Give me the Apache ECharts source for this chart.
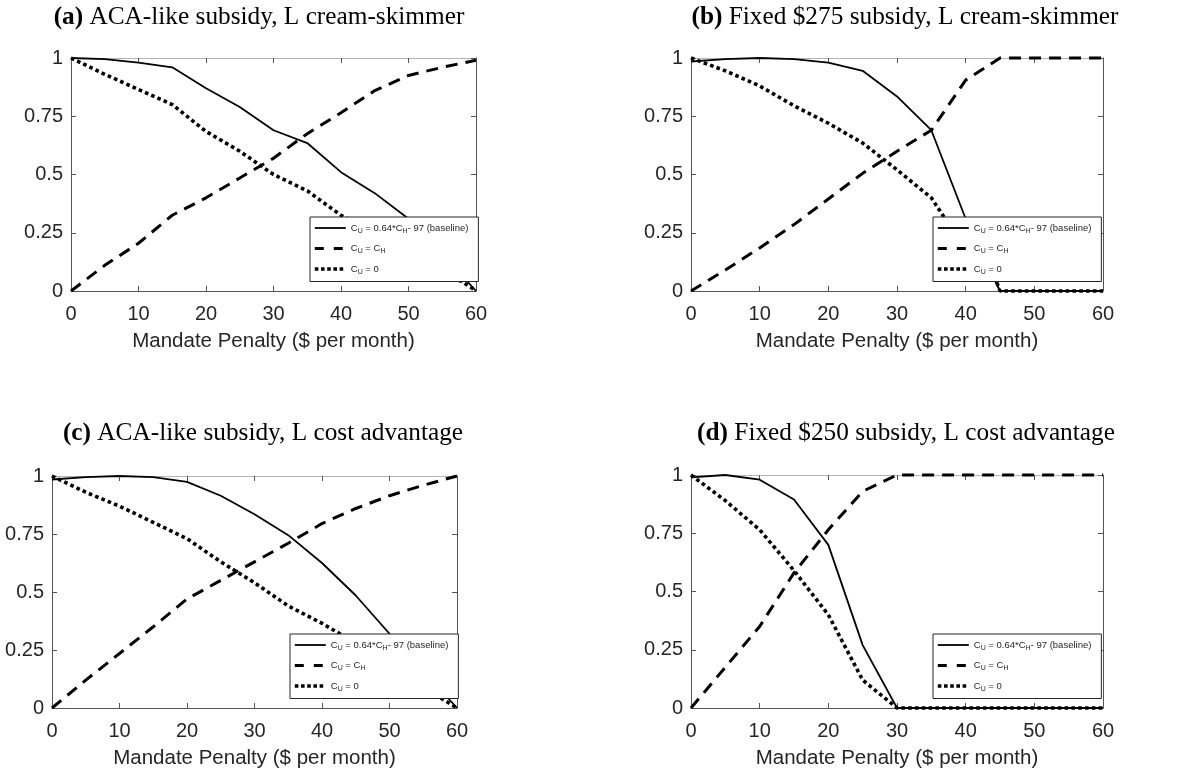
<!DOCTYPE html>
<html>
<head>
<meta charset="utf-8">
<script src="https://cdn.jsdelivr.net/npm/echarts@6/dist/echarts.min.js"></script>
<style>html,body{margin:0;padding:0;background:#fff;}#c{width:1191px;height:778px;}</style>
</head>
<body>
<div id="c"></div>
<script>
// ---- data ----
const titles = [
  '{b|(a)} ACA-like subsidy, L cream-skimmer',
  '{b|(b)} Fixed $275 subsidy, L cream-skimmer',
  '{b|(c)} ACA-like subsidy, L cost advantage',
  '{b|(d)} Fixed $250 subsidy, L cost advantage'
];
const xTicks = [0, 10, 20, 30, 40, 50, 60];
const yTicks = [0, 0.25, 0.5, 0.75, 1];
const xAxisName = 'Mandate Penalty ($ per month)';
const legendNames = ['base', 'eq', 'zero'];
const legendLabels = {
  base: 'C{s|U} = 0.64*C{s|H}- 97 (baseline)',
  eq: 'C{s|U} = C{s|H}',
  zero: 'C{s|U} = 0'
};

const xGrid = [0, 5, 10, 15, 20, 25, 30, 35, 40, 45, 50, 55, 60];

// Panel (a)
const aBaseX = xGrid;
const aBaseY = [1.0, 0.995, 0.98, 0.96, 0.87, 0.79, 0.69, 0.635, 0.51, 0.42, 0.31, 0.16, 0.0];
const aEqX = xGrid;
const aEqY = [0, 0.11, 0.205, 0.325, 0.4, 0.485, 0.57, 0.675, 0.765, 0.86, 0.925, 0.96, 0.99];
const aZeroX = [0, 5, 10, 15, 20, 25, 30, 35, 40, 45, 50, 55, 58, 60];
const aZeroY = [1.0, 0.93, 0.865, 0.8, 0.685, 0.6, 0.5, 0.43, 0.325, 0.25, 0.17, 0.07, 0.04, 0.0];

// Panel (b)
const bBaseX = xGrid;
const bBaseY = [0.985, 0.995, 1.0, 0.995, 0.98, 0.945, 0.835, 0.69, 0.31, 0, 0, 0, 0];
const bEqX = xGrid;
const bEqY = [0, 0.09, 0.185, 0.285, 0.395, 0.505, 0.6, 0.69, 0.905, 1, 1, 1, 1];
const bZeroX = [0, 5, 10, 15, 20, 25, 30, 35, 37, 40, 43, 44.5, 45, 50, 55, 60];
const bZeroY = [1.0, 0.945, 0.88, 0.795, 0.72, 0.635, 0.52, 0.4, 0.31, 0.18, 0.07, 0.04, 0, 0, 0, 0];

// Panel (c)
const cBaseX = xGrid;
const cBaseY = [0.985, 0.995, 1.0, 0.995, 0.975, 0.915, 0.835, 0.745, 0.625, 0.485, 0.32, 0.16, 0.0];
const cEqX = xGrid;
const cEqY = [0, 0.12, 0.235, 0.35, 0.47, 0.55, 0.63, 0.71, 0.795, 0.86, 0.915, 0.96, 1.0];
const cZeroX = [0, 5, 10, 15, 20, 25, 30, 35, 40, 45, 50, 55, 57.5, 60];
const cZeroY = [1.0, 0.93, 0.87, 0.8, 0.73, 0.63, 0.54, 0.44, 0.365, 0.28, 0.19, 0.1, 0.045, 0.0];

// Panel (d)
const dBaseX = xGrid;
const dBaseY = [0.99, 1.0, 0.98, 0.895, 0.7, 0.27, 0, 0, 0, 0, 0, 0, 0];
const dEqX = xGrid;
const dEqY = [0, 0.175, 0.35, 0.58, 0.765, 0.93, 1, 1, 1, 1, 1, 1, 1];
const dZeroX = xGrid;
const dZeroY = [1.0, 0.89, 0.765, 0.59, 0.4, 0.12, 0, 0, 0, 0, 0, 0, 0];

const panels = [
  [[aBaseX, aBaseY], [aEqX, aEqY], [aZeroX, aZeroY]],
  [[bBaseX, bBaseY], [bEqX, bEqY], [bZeroX, bZeroY]],
  [[cBaseX, cBaseY], [cEqX, cEqY], [cZeroX, cZeroY]],
  [[dBaseX, dBaseY], [dEqX, dEqY], [dZeroX, dZeroY]]
];

// ---- layout / style ----
const grids = [
  {left: 71, top: 58, width: 405, height: 233},
  {left: 691, top: 58, width: 412, height: 233},
  {left: 52, top: 476, width: 405, height: 232},
  {left: 691, top: 475, width: 412, height: 233}
];
const titlePos = [[259, 17], [905, 17], [263, 433], [906, 433]];
const legendPos = [[310, 217], [933, 217], [290, 634], [933, 634]];

const FONT = 'Liberation Sans';
const AX = '#262626';
const AXL = '#555555';
const lineStyles = [
  {color: '#000', width: 1.8, type: 'solid'},
  {color: '#000', width: 3, type: [12, 8], cap: 'butt'},
  {color: '#000', width: 3.6, type: [3.6, 3.2], cap: 'butt'}
];
const legendLineStyles = [
  {color: '#000', width: 1.8, type: 'solid', opacity: 1},
  {color: '#000', width: 3, type: [9, 10], cap: 'butt', opacity: 1},
  {color: '#000', width: 3.6, type: [3.6, 2.6], cap: 'butt', opacity: 1}
];

const xAxes = [], yAxes = [], series = [], legends = [], graphics = [];
grids.forEach((g, gi) => {
  xAxes.push({
    type: 'value', gridIndex: gi, min: 0, max: 60, interval: 10, position: 'bottom',
    axisLine: {show: true, onZero: false, lineStyle: {color: AXL, width: 1}},
    axisTick: {show: true, inside: true, length: 5, lineStyle: {color: AXL}},
    axisLabel: {fontSize: 20, color: AX, fontFamily: FONT, margin: 13,
      formatter: v => xTicks.includes(v) ? String(v) : ''},
    splitLine: {show: false},
    name: xAxisName, nameLocation: 'middle', nameGap: 40,
    nameTextStyle: {fontSize: 20.5, color: AX, fontFamily: FONT}
  });
  xAxes.push({
    type: 'value', gridIndex: gi, min: 0, max: 60, interval: 10, position: 'top',
    axisLine: {show: true, onZero: false, lineStyle: {color: '#b4b4b4', width: 1}},
    axisTick: {show: true, inside: true, length: 5, lineStyle: {color: AXL}},
    axisLabel: {show: false}, splitLine: {show: false}
  });
  yAxes.push({
    type: 'value', gridIndex: gi, min: 0, max: 1, interval: 0.25, position: 'left',
    axisLine: {show: true, onZero: false, lineStyle: {color: AXL, width: 1}},
    axisTick: {show: true, inside: true, length: 5, lineStyle: {color: AXL}},
    axisLabel: {fontSize: 20, color: AX, fontFamily: FONT, margin: 8,
      formatter: v => yTicks.includes(v) ? String(v) : ''},
    splitLine: {show: false}
  });
  yAxes.push({
    type: 'value', gridIndex: gi, min: 0, max: 1, interval: 0.25, position: 'right',
    axisLine: {show: true, onZero: false, lineStyle: {color: AXL, width: 1}},
    axisTick: {show: true, inside: true, length: 5, lineStyle: {color: AXL}},
    axisLabel: {show: false}, splitLine: {show: false}
  });
  panels[gi].forEach((s, si) => {
    series.push({
      type: 'line', name: legendNames[si],
      xAxisIndex: gi * 2, yAxisIndex: gi * 2,
      data: s[0].map((x, i) => [x, s[1][i]]),
      showSymbol: false, symbol: 'none', clip: false, silent: true,
      lineStyle: lineStyles[si], itemStyle: {color: '#000'},
      z: 3 + si
    });
  });
  legends.push({
    data: legendNames.map((n, i) => ({
      name: n,
      lineStyle: legendLineStyles[i],
      itemStyle: {color: 'rgba(0,0,0,0)', borderColor: 'rgba(0,0,0,0)', borderWidth: 0, opacity: 0}
    })),
    orient: 'vertical', left: legendPos[gi][0], top: legendPos[gi][1],
    padding: [6, 10, 6, 3], itemGap: 9, itemWidth: 31, itemHeight: 11,
    backgroundColor: '#fff', borderColor: AX, borderWidth: 1, borderRadius: 0,
    selectedMode: false, z: 20,
    formatter: n => legendLabels[n],
    textStyle: {fontFamily: FONT, fontSize: 9.5, color: AX,
      rich: {s: {fontFamily: FONT, fontSize: 7, color: AX, padding: [6, 0, 0, 0]}}}
  });
  graphics.push({
    type: 'text', x: titlePos[gi][0], y: titlePos[gi][1], z: 100,
    style: {
      text: titles[gi], align: 'center', verticalAlign: 'middle',
      fontFamily: 'Liberation Serif', fontSize: 25.3, fill: '#000',
      rich: {b: {fontFamily: 'Liberation Serif', fontSize: 25.3, fontWeight: 'bold', fill: '#000'}}
    }
  });
});

const chart = echarts.init(document.getElementById('c'), null, {renderer: 'canvas'});
chart.setOption({
  backgroundColor: '#fff',
  animation: false,
  grid: grids.map(g => Object.assign({containLabel: false}, g)),
  xAxis: xAxes, yAxis: yAxes,
  legend: legends,
  series: series,
  graphic: graphics
});
</script>
</body>
</html>
